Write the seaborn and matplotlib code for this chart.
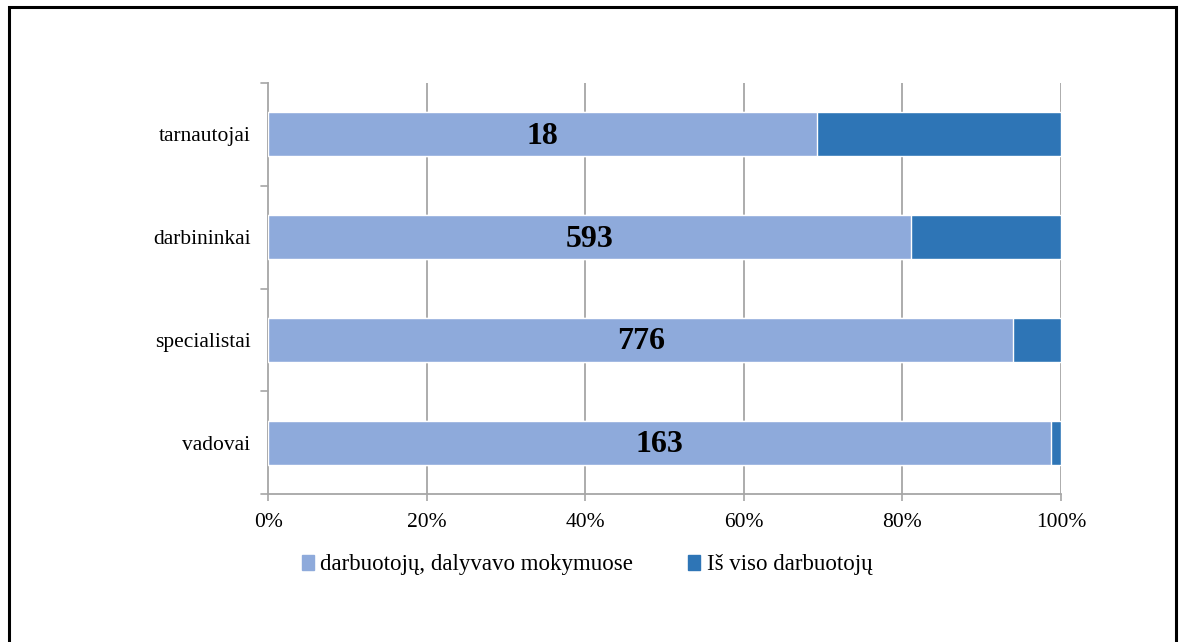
import matplotlib
matplotlib.use("Agg")
import matplotlib.pyplot as plt
import matplotlib.patches as mpatches
import seaborn as sns
import pandas as pd
import numpy as np

# Employee groups (top to bottom) and counts
categories = ["tarnautojai", "darbininkai", "specialistai", "vadovai"]
participated = [18, 593, 776, 163]          # darbuotojų, dalyvavo mokymuose
remaining = [8, 138, 50, 2]                 # Iš viso darbuotojų (rest of the bar)
series_names = ["darbuotojų, dalyvavo mokymuose", "Iš viso darbuotojų"]
x_ticks = [0, 20, 40, 60, 80, 100]
x_tick_labels = ["0%", "20%", "40%", "60%", "80%", "100%"]

light = "#8EAADB"
dark = "#2E75B6"
grid_gray = "#A6A6A6"

sns.set_theme(style="white")
plt.rcParams["font.family"] = ["Liberation Serif", "DejaVu Serif"]
plt.rcParams["text.color"] = "black"
plt.rcParams["xtick.labelcolor"] = "black"
plt.rcParams["ytick.labelcolor"] = "black"

part = np.array(participated, dtype=float)
rest = np.array(remaining, dtype=float)
total = part + rest
df = pd.DataFrame({
    "category": categories,
    "part_pct": part / total * 100,
    "total_pct": total / total * 100,
})

fig = plt.figure(figsize=(11.79, 6.42), dpi=100)
ax = fig.add_axes([0.2277, 0.2305, 0.8999 - 0.2277, 0.8707 - 0.2305])

# Full 100% bar in dark blue, participating share overlaid in light blue
sns.barplot(data=df, x="total_pct", y="category", orient="h", color=dark,
            width=0.43, ax=ax, saturation=1, zorder=3)
sns.barplot(data=df, x="part_pct", y="category", orient="h", color=light,
            width=0.43, ax=ax, saturation=1, zorder=4)

for i, (p, v) in enumerate(zip(df["part_pct"], participated)):
    ax.text(p / 2, i + 0.02, str(v), ha="center", va="center", fontsize=23,
            fontweight="bold", color="black", zorder=5)

ax.set_xlim(0, 100)
ax.set_ylim(3.5, -0.5)
ax.set_xticks(x_ticks)
ax.set_xticklabels(x_tick_labels, fontsize=15.5, color="black")
ax.set_yticks(range(len(categories)))
ax.set_yticklabels(categories, fontsize=15.5, color="black")
ax.set_xlabel("")
ax.set_ylabel("")
ax.tick_params(axis="y", length=0, pad=13)
ax.tick_params(axis="x", length=5, color=grid_gray, width=1.2, pad=9,
               direction="out", bottom=True)

# Category separators on the vertical axis
for yb in np.arange(-0.5, len(categories), 1.0):
    ax.plot([-0.009, 0], [yb, yb], transform=ax.get_yaxis_transform(),
            color=grid_gray, lw=1.2, clip_on=False)

for xv in x_ticks[1:]:
    ax.axvline(xv, color=grid_gray, lw=1.3, zorder=1)

for side in ["top", "right"]:
    ax.spines[side].set_visible(False)
for side in ["left", "bottom"]:
    ax.spines[side].set_color(grid_gray)
    ax.spines[side].set_linewidth(1.3)

handles = [mpatches.Patch(color=light, label=series_names[0]),
           mpatches.Patch(color=dark, label=series_names[1])]
leg = fig.legend(handles=handles, loc="center", bbox_to_anchor=(0.498, 0.12),
                 ncol=2, frameon=False, fontsize=16.5, handlelength=0.5,
                 handleheight=0.6, handletextpad=0.3, columnspacing=2.4)
for t in leg.get_texts():
    t.set_color("black")

# Outer frame (open at the bottom edge of the image)
frame = mpatches.Rectangle((9.5 / 1179, -0.1), (1176 - 9.5) / 1179,
                           1.1 - 6.5 / 642, transform=fig.transFigure,
                           fill=False, edgecolor="black", lw=2.2, clip_on=False)
fig.patches.append(frame)

fig.savefig("out.png", dpi=100, facecolor="white")
